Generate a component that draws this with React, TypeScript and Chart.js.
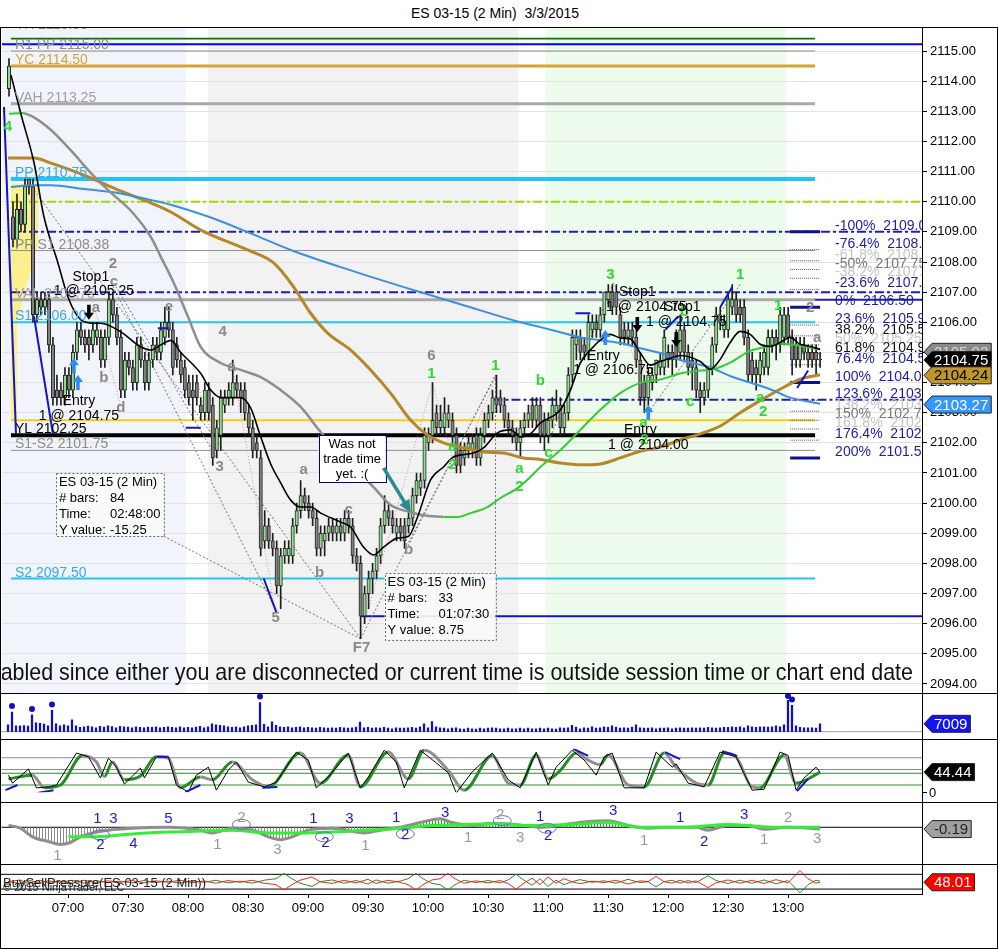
import React, { useEffect, useRef } from 'react';
import { Chart, registerables } from 'chart.js';

Chart.register(...registerables);

const FONT = '"Liberation Sans", Arial, Helvetica, sans-serif';
const AXIS_W = 76;

// ---------------- axes ----------------
const timeTickBars = [15, 30, 45, 60, 75, 90, 105, 120, 135, 150, 165, 180, 195];
const timeTickLabels = ['07:00', '07:30', '08:00', '08:30', '09:00', '09:30', '10:00', '10:30', '11:00', '11:30', '12:00', '12:30', '13:00'];
const priceTicks = [2094, 2095, 2096, 2097, 2098, 2099, 2100, 2101, 2102, 2103, 2104, 2105, 2106, 2107, 2108, 2109, 2110, 2111, 2112, 2113, 2114, 2115];
const oscTicks = [0];

// ---------------- candles (2 min bars, index 0 = 06:30) ----------------
const opens = [
  2113.75, 2109.5, 2108.75, 2109.75, 2109.25, 2110.75, 2110.5, 2106.25, 2106.75, 2106.5,
  2106.75, 2105.25, 2103.75, 2103.75, 2103.5, 2104.25, 2103.75, 2105.0, 2105.75, 2105.5,
  2105.5, 2105.25, 2105.5, 2105.5, 2104.75, 2105.5, 2106.75, 2106.25, 2105.5, 2103.75,
  2104.75, 2104.5, 2104.0, 2105.25, 2104.75, 2104.0, 2104.75, 2105.25, 2105.0, 2105.5,
  2106.0, 2105.75, 2105.25, 2104.75, 2104.5, 2104.0, 2103.75, 2104.0, 2103.25, 2103.0,
  2103.75, 2103.25, 2101.75, 2102.25, 2103.25, 2103.5, 2103.5, 2104.0, 2103.75, 2103.75,
  2103.0, 2102.5, 2102.0, 2101.5, 2098.75, 2099.25, 2098.75, 2098.5, 2097.25, 2098.25,
  2098.25, 2098.25, 2099.25, 2099.75, 2100.25, 2100.0, 2099.75, 2099.5, 2098.5, 2098.75,
  2099.0, 2099.25, 2099.0, 2099.25, 2099.0, 2099.5, 2099.25, 2098.25, 2098.0, 2096.25,
  2097.0, 2097.5, 2097.75, 2098.25, 2099.25, 2099.75, 2099.5, 2099.0, 2099.25, 2099.25,
  2099.25, 2099.5, 2100.25, 2100.5, 2100.75, 2102.0, 2102.25, 2103.0, 2102.5, 2102.5,
  2102.75, 2102.75, 2102.25, 2101.75, 2101.5, 2101.75, 2101.75, 2102.25, 2101.5, 2102.25,
  2102.75, 2103.0, 2103.5, 2103.5, 2103.25, 2102.75, 2102.5, 2102.25, 2102.0, 2102.5,
  2102.75, 2103.25, 2102.75, 2103.25, 2102.75, 2102.25, 2102.75, 2103.0, 2103.25, 2102.5,
  2103.0, 2104.25, 2105.25, 2105.5, 2105.25, 2105.0, 2105.75, 2106.0, 2105.75, 2106.25,
  2106.75, 2107.0, 2107.0, 2106.25, 2105.75, 2105.5, 2105.75, 2105.5, 2104.75, 2104.0,
  2103.5, 2104.0, 2104.25, 2104.5, 2104.5, 2105.0, 2105.0, 2105.5, 2105.0, 2105.75,
  2105.0, 2104.75, 2104.5, 2103.75, 2103.5, 2103.75, 2104.5, 2105.25, 2106.0, 2105.75,
  2105.75, 2106.5, 2106.75, 2106.5, 2106.5, 2105.5, 2104.75, 2104.5, 2104.25, 2104.5,
  2104.5, 2105.25, 2105.5, 2105.25, 2105.5, 2106.25, 2105.5, 2105.25, 2104.75, 2105.25,
  2105.0, 2105.0, 2105.0, 2104.75,
];
const highs = [
  2114.75, 2110.0, 2110.25, 2110.0, 2110.75, 2110.75, 2110.75, 2107.0, 2107.0, 2107.0,
  2107.0, 2105.5, 2104.25, 2104.0, 2104.5, 2104.5, 2105.25, 2106.0, 2106.0, 2105.75,
  2105.75, 2106.0, 2106.0, 2105.75, 2105.75, 2107.0, 2107.0, 2106.5, 2105.75, 2105.0,
  2105.0, 2104.75, 2105.5, 2105.5, 2105.0, 2105.0, 2105.5, 2105.5, 2106.0, 2106.5,
  2106.5, 2106.0, 2105.5, 2105.0, 2104.75, 2104.25, 2104.25, 2104.25, 2103.5, 2104.0,
  2104.0, 2103.5, 2102.75, 2103.75, 2103.75, 2104.0, 2104.75, 2104.25, 2104.0, 2104.0,
  2103.25, 2102.75, 2102.25, 2101.75, 2099.75, 2099.5, 2099.0, 2098.75, 2098.5, 2098.75,
  2098.75, 2099.5, 2100.0, 2100.75, 2100.5, 2100.25, 2100.0, 2099.75, 2099.25, 2099.25,
  2099.5, 2099.5, 2099.5, 2099.5, 2099.75, 2099.75, 2099.5, 2098.5, 2098.25, 2097.25,
  2097.75, 2098.0, 2098.5, 2099.5, 2100.25, 2100.0, 2099.75, 2099.5, 2099.5, 2099.5,
  2099.75, 2100.5, 2101.0, 2101.0, 2102.5, 2102.5, 2104.0, 2103.25, 2103.25, 2103.5,
  2103.25, 2103.0, 2102.5, 2102.0, 2102.0, 2102.25, 2102.25, 2102.5, 2102.5, 2103.0,
  2103.25, 2103.75, 2104.25, 2103.75, 2103.5, 2103.0, 2102.75, 2102.5, 2102.75, 2103.0,
  2103.25, 2103.5, 2103.5, 2103.5, 2103.0, 2103.0, 2103.5, 2103.75, 2103.5, 2103.25,
  2104.5, 2105.75, 2105.75, 2105.75, 2105.5, 2106.25, 2106.25, 2106.25, 2106.5, 2107.0,
  2107.25, 2107.25, 2107.25, 2106.5, 2106.0, 2106.0, 2106.0, 2105.75, 2105.0, 2104.25,
  2104.5, 2104.5, 2104.75, 2105.0, 2105.75, 2105.25, 2105.25, 2105.75, 2106.25, 2106.0,
  2105.25, 2105.0, 2104.75, 2104.0, 2104.0, 2104.5, 2105.5, 2106.5, 2106.5, 2106.25,
  2107.0, 2107.25, 2107.0, 2106.75, 2106.75, 2105.75, 2105.0, 2104.75, 2105.0, 2105.25,
  2105.75, 2105.75, 2105.75, 2106.5, 2106.5, 2106.5, 2105.75, 2105.5, 2105.5, 2105.5,
  2105.25, 2105.25, 2105.25, 2105.0,
];
const lows = [
  2113.5, 2108.5, 2108.5, 2109.0, 2109.0, 2110.25, 2106.0, 2106.0, 2106.25, 2106.25,
  2105.0, 2103.25, 2103.25, 2103.25, 2103.25, 2103.5, 2103.5, 2104.75, 2105.25, 2105.0,
  2104.75, 2105.0, 2105.25, 2104.5, 2104.5, 2105.25, 2106.0, 2105.25, 2103.5, 2103.5,
  2104.25, 2103.75, 2103.75, 2104.5, 2103.75, 2103.75, 2104.5, 2104.75, 2104.75, 2105.25,
  2105.5, 2104.25, 2104.5, 2104.0, 2103.5, 2103.25, 2102.75, 2103.25, 2102.75, 2102.75,
  2102.75, 2101.25, 2101.5, 2101.75, 2103.0, 2103.25, 2103.25, 2103.5, 2103.0, 2102.75,
  2102.25, 2101.5, 2101.5, 2098.25, 2098.5, 2098.5, 2098.25, 2097.0, 2096.5, 2098.0,
  2098.0, 2098.0, 2099.0, 2099.5, 2099.75, 2099.5, 2099.25, 2098.25, 2098.25, 2098.25,
  2098.75, 2098.75, 2098.75, 2098.75, 2098.75, 2099.0, 2098.0, 2097.75, 2095.5, 2096.0,
  2096.5, 2097.0, 2097.5, 2098.0, 2099.0, 2099.25, 2099.0, 2098.75, 2098.75, 2098.5,
  2099.0, 2099.25, 2100.0, 2100.25, 2100.5, 2101.75, 2102.0, 2102.25, 2102.25, 2102.25,
  2102.5, 2102.0, 2101.0, 2101.0, 2101.25, 2101.5, 2101.5, 2101.25, 2101.25, 2102.0,
  2102.5, 2102.75, 2103.0, 2103.0, 2102.5, 2102.25, 2102.0, 2101.75, 2101.5, 2102.25,
  2102.5, 2102.5, 2102.5, 2102.0, 2101.75, 2102.0, 2102.5, 2102.75, 2102.25, 2102.25,
  2102.75, 2104.0, 2104.75, 2104.75, 2104.75, 2104.75, 2105.5, 2105.5, 2105.5, 2106.0,
  2106.5, 2106.25, 2106.25, 2105.25, 2105.25, 2105.25, 2105.25, 2104.5, 2103.25, 2103.0,
  2103.25, 2103.75, 2104.0, 2104.25, 2104.25, 2104.5, 2104.25, 2104.5, 2104.75, 2104.75,
  2104.25, 2103.75, 2103.5, 2103.0, 2103.25, 2103.5, 2104.25, 2105.0, 2105.75, 2105.5,
  2105.5, 2106.25, 2106.0, 2106.0, 2105.25, 2104.0, 2104.0, 2103.75, 2104.0, 2104.25,
  2104.25, 2105.0, 2104.75, 2105.0, 2105.25, 2105.25, 2104.25, 2104.5, 2104.5, 2104.75,
  2104.5, 2104.5, 2104.25, 2104.5,
];
const closes = [
  2114.5, 2108.75, 2109.75, 2109.25, 2110.5, 2110.5, 2106.25, 2106.75, 2106.5, 2106.75,
  2105.25, 2103.5, 2103.5, 2103.5, 2104.25, 2103.75, 2105.0, 2105.75, 2105.5, 2105.25,
  2105.25, 2105.75, 2105.75, 2104.75, 2105.5, 2106.75, 2106.25, 2105.5, 2103.75, 2104.75,
  2104.5, 2104.0, 2105.25, 2104.75, 2104.0, 2104.75, 2105.25, 2105.0, 2105.75, 2106.0,
  2105.75, 2104.5, 2104.75, 2104.25, 2103.75, 2103.5, 2103.5, 2103.5, 2103.0, 2103.75,
  2103.0, 2101.5, 2102.5, 2103.5, 2103.5, 2103.75, 2104.0, 2103.75, 2103.5, 2103.0,
  2102.5, 2101.75, 2101.75, 2098.5, 2099.25, 2098.75, 2098.5, 2097.25, 2098.25, 2098.5,
  2098.5, 2099.25, 2099.75, 2100.25, 2100.0, 2099.75, 2099.5, 2098.5, 2099.0, 2099.0,
  2099.25, 2099.0, 2099.25, 2099.0, 2099.5, 2099.25, 2098.25, 2098.0, 2096.25, 2097.0,
  2097.5, 2097.75, 2098.25, 2099.25, 2099.75, 2099.5, 2099.25, 2099.25, 2099.0, 2098.75,
  2099.5, 2100.25, 2100.75, 2100.75, 2102.25, 2102.25, 2102.75, 2102.5, 2102.75, 2103.0,
  2103.0, 2102.25, 2101.25, 2101.25, 2101.75, 2102.0, 2102.0, 2101.5, 2102.25, 2102.75,
  2103.0, 2103.5, 2103.25, 2103.25, 2102.75, 2102.5, 2102.25, 2102.0, 2102.5, 2102.75,
  2103.0, 2102.75, 2103.25, 2102.25, 2102.25, 2102.75, 2103.25, 2103.25, 2102.5, 2103.0,
  2104.25, 2105.5, 2105.5, 2105.0, 2105.0, 2106.0, 2106.0, 2105.75, 2106.25, 2107.0,
  2107.0, 2106.5, 2106.5, 2105.5, 2105.5, 2105.75, 2105.5, 2104.75, 2103.5, 2103.5,
  2104.25, 2104.25, 2104.75, 2104.75, 2105.5, 2104.75, 2104.75, 2104.75, 2105.75, 2105.0,
  2104.5, 2104.5, 2103.75, 2103.5, 2103.75, 2104.5, 2105.25, 2106.25, 2106.25, 2106.0,
  2106.75, 2106.75, 2106.25, 2106.25, 2105.5, 2104.25, 2104.25, 2104.25, 2104.75, 2105.0,
  2105.5, 2105.5, 2105.25, 2106.25, 2106.25, 2105.5, 2104.75, 2104.75, 2105.25, 2105.0,
  2104.75, 2104.75, 2104.75, 2104.75,
];

// ---------------- moving averages [bar, price] ----------------
const blackMA = [[0.5, 2114.2], [3, 2112.9], [6.25, 2111.3], [8.75, 2109.5], [12.25, 2107.97], [14.75, 2106.84], [18, 2106.08], [21.25, 2105.97], [23, 2105.97], [28, 2105.68], [33, 2105.18], [35.5, 2105.08], [38, 2105.25], [40.5, 2105.4], [43, 2105.0], [48, 2104.3], [50.5, 2103.75], [53, 2103.5], [58, 2103.5], [60.5, 2103.15], [63, 2102.2], [65.5, 2101.3], [68, 2100.67], [70.5, 2100.1], [73, 2099.87], [75.5, 2099.87], [78, 2099.67], [83, 2099.37], [85.5, 2099.2], [88.75, 2098.54], [91.25, 2098.28], [93.75, 2098.54], [97.25, 2098.84], [100, 2098.9], [102.25, 2099.54], [105.5, 2100.77], [108.75, 2101.2], [111.25, 2101.53], [116.25, 2101.66], [118.75, 2101.83], [122.25, 2102.33], [125.5, 2102.43], [128, 2102.2], [130.5, 2102.3], [133, 2102.66], [138, 2103.1], [140.5, 2103.75], [143, 2104.65], [145.5, 2105.08], [148, 2105.41], [150.5, 2105.6], [153, 2105.48], [155.5, 2105.45], [158, 2104.98], [160.5, 2104.58], [163, 2104.7], [165.5, 2104.81], [168, 2104.9], [173, 2104.7], [175.5, 2104.44], [178, 2104.77], [180.5, 2105.33], [183, 2105.7], [185.5, 2105.6], [188, 2105.27], [190.5, 2105.2], [193, 2105.33], [195.5, 2105.5], [198, 2105.27], [200.5, 2105.2], [203, 2105.1]];
const grayMA = [[3.75, 2112.94], [6.25, 2112.8], [10.5, 2112.38], [15.5, 2111.7], [20.5, 2110.95], [25.5, 2110.3], [30.5, 2109.7], [35.5, 2108.83], [38, 2108.17], [41.25, 2107.3], [44.75, 2106.2], [48, 2105.18], [53, 2104.65], [58, 2104.42], [63, 2104.18], [68, 2103.75], [73, 2103.19], [78, 2102.36], [84.25, 2101.43], [91.25, 2100.53], [95.5, 2099.94], [100.5, 2099.7], [103.75, 2099.6], [108.75, 2099.54]];
const greenMAStart = [[0, 2112.92], [3.75, 2112.94]];
const greenMA = [[108.75, 2099.54], [112.25, 2099.54], [115.5, 2099.67], [119.75, 2099.87], [123, 2100.17], [127.25, 2100.5], [130.5, 2100.87], [133, 2101.2], [138, 2101.76], [143, 2102.43], [148, 2103.1], [153, 2103.65], [158, 2103.99], [163, 2104.1], [168, 2104.3], [173, 2104.4], [176.25, 2104.44], [180.5, 2104.66], [185.5, 2105.05], [190.5, 2105.22], [193, 2105.3], [198, 2105.22], [203, 2105.1]];
const brownMA = [[-0.25, 2111.45], [6.25, 2111.45], [10.5, 2111.28], [15.5, 2111.05], [20.5, 2110.79], [25.5, 2110.49], [30.5, 2110.22], [35.5, 2109.96], [40.5, 2109.66], [48, 2109.06], [59.75, 2108.4], [66.25, 2107.97], [71.25, 2107.17], [75.5, 2106.3], [79.75, 2105.64], [85.5, 2105.08], [90.5, 2104.42], [95.5, 2103.65], [100.5, 2102.76], [104.75, 2102.26], [108.75, 2102.0], [113.75, 2101.83], [118.75, 2101.7], [123.75, 2101.66], [128.75, 2101.5], [133, 2101.45], [138, 2101.33], [143, 2101.27], [148, 2101.3], [153, 2101.5], [158, 2101.72], [163, 2101.86], [168, 2102.1], [173, 2102.3], [178, 2102.56], [183, 2103.0], [188, 2103.4], [193, 2103.78], [198, 2104.11], [203, 2104.26]];
const blueMA = [[0.5, 2110.49], [6.25, 2110.55], [10.5, 2110.55], [18.75, 2110.42], [27.25, 2110.29], [35.5, 2110.06], [40.5, 2109.9], [50, 2109.5], [60.5, 2108.95], [70.5, 2108.4], [83, 2107.83], [98, 2107.2], [113, 2106.6], [128, 2106.0], [133, 2105.84], [138, 2105.67], [143, 2105.5], [153, 2105.31], [158, 2105.14], [163, 2104.98], [168, 2104.75], [175.5, 2104.5], [180.5, 2104.22], [185.5, 2104.0], [190.5, 2103.78], [195.5, 2103.5], [203, 2103.3]];

// ---------------- horizontal levels ----------------
const levelPrices = [2115.43, 2115.22, 2115.0, 2114.5, 2113.25, 2110.75, 2110.0, 2109.0, 2108.38, 2107.0, 2106.75, 2106.75, 2106.0, 2103.43, 2102.75, 2102.25, 2101.75, 2097.5, 2096.25];
const levelFrom = [0.5, -2, 0.5, 0.5, 0.5, 0.5, 0.5, 0.5, 0.5, 0.5, 0.5, 201.25, 0.5, 121.25, 0.5, 0.5, 0.5, 0.5, 88];
const levelTo = [201.75, 229, 201.75, 201.75, 201.75, 201.75, 229, 229, 201.75, 229, 201.75, 229, 201.75, 229, 201.75, 201.75, 201.75, 201.75, 229];
const levelStyles = [
  { c: '#007a00', w: 3 }, { c: '#0000ff', w: 2 }, { c: '#8c8c8c', w: 1 }, { c: '#d4a437', w: 3 },
  { c: '#a8a8a8', w: 3 }, { c: '#22c4f4', w: 4 }, { c: '#99dd00', w: 2, d: [9, 3, 3, 3] },
  { c: '#1e1eb4', w: 2, d: [9, 3, 3, 3] }, { c: '#909090', w: 1 }, { c: '#1e1eb4', w: 2, d: [9, 3, 3, 3] },
  { c: '#a8a8a8', w: 3 }, { c: '#1e1eb4', w: 2 }, { c: '#22c4f4', w: 2 }, { c: '#1e1eb4', w: 2, d: [9, 3, 3, 3] },
  { c: '#f5cc1a', w: 2 }, { c: '#000000', w: 4 }, { c: '#909090', w: 1 }, { c: '#22c4f4', w: 2 }, { c: '#1414c8', w: 2 },
];
const levelLabelTexts = ['YH 2115.50', 'R1 PP 2115.00', 'YC 2114.50', 'VAH 2113.25', 'PP 2110.75', 'PP S1 2108.38', 'VAL 2106.75', 'S1 2106.00', 'YL 2102.25', 'S1-S2 2101.75', 'S2 2097.50'];
const levelLabelPrices = [2115.68, 2115.0, 2114.5, 2113.25, 2110.75, 2108.38, 2106.75, 2106.0, 2102.25, 2101.75, 2097.5];
const levelLabelColors = ['#8c8c8c', '#8c8c8c', '#d4a437', '#a0a0a0', '#3aa8f0', '#8c8c8c', '#a0a0a0', '#3aa8f0', '#000000', '#8c8c8c', '#3aa8f0'];
const levelLabelBar = 1.5;

// ---------------- fibonacci ----------------
const fibPcts = ['-100%', '-76.4%', '-61.8%', '-50%', '-38.2%', '-23.6%', '0%', '23.6%', '38.2%', '50%', '61.8%', '76.4%', '100%', '123.6%', '138.2%', '150%', '161.8%', '176.4%', '200%'];
const fibPrices = [2109.0, 2108.41, 2108.04, 2107.75, 2107.46, 2107.09, 2106.5, 2105.91, 2105.55, 2105.25, 2104.96, 2104.59, 2104.0, 2103.41, 2103.05, 2102.75, 2102.46, 2102.09, 2101.5];
const fibColors = ['#1c1ca8', '#1c1ca8', '#c4c4c4', '#777777', '#c4c4c4', '#1c1ca8', '#1c1ca8', '#1c1ca8', '#111111', '#c4c4c4', '#111111', '#1c1ca8', '#1c1ca8', '#1c1ca8', '#c4c4c4', '#777777', '#c4c4c4', '#1c1ca8', '#1c1ca8'];
const fibThick = [0, 6, 12, 18];
const fibFrom = 195.5;
const fibTo = 203;
const fibLabelBar = 206.75;

// ---------------- zones ----------------
const zoneFrom = [-2, 49.75, 134.25];
const zoneTo = [44.25, 127.5, 194.5];
const zoneColors = ['#f2f4fb', '#f2f2f2', '#ecfbec'];
const yellowBars = [0.5, 7.25, 7.25, 2, 2, 0.5];
const yellowPrices = [2110.6, 2110.6, 2108.6, 2106.0, 2102.75, 2102.75];

// ---------------- segments ----------------
const waveSegFrom = [[-1.25, 2113.14], [6.25, 2106.2], [37.25, 2105.8], [44.25, 2102.5], [63.75, 2097.5], [141.75, 2106.3], [164.25, 2105.75], [178, 2106.5], [197.25, 2103.82]];
const waveSegTo = [[1.75, 2102.3], [11, 2102.3], [40, 2105.8], [48, 2102.5], [67, 2096.35], [145.5, 2106.3], [167.5, 2106.2], [181, 2107.17], [200, 2104.4]];
const measureFrom = [[4, 2110.8], [88, 2095.5], [121.75, 2104.25], [38.75, 2098.9], [26.25, 2107.3], [26, 2107.2], [100, 2098.7], [135.5, 2102.2], [160, 2103.0]];
const measureTo = [[88, 2095.5], [121.75, 2104.25], [121.75, 2097.7], [88, 2095.5], [52, 2101.5], [67, 2096.4], [121.75, 2104.2], [151.25, 2107.3], [183, 2107.25]];
const pivotFrom = [[46, 2104.65], [55.75, 2104.7], [88, 2095.6], [106, 2104.0], [112, 2101.0], [151.25, 2107.3], [21, 2106.7]];
const pivotTo = [[52, 2101.5], [66.75, 2096.4], [106, 2104.0], [112, 2101.0], [122, 2104.2], [160, 2103.0], [28, 2103.2]];

// ---------------- chart texts ----------------
const grayLabels = ['2', 'c', 'a', 'b', 'd', 'e', '4', 'a', '3', 'a', 'c', 'b', '5', 'F7', 'b', '6', '2', 'a'];
const grayLabelBars = [26, 26.25, 21.75, 23.75, 28, 40, 53.5, 55.75, 52.75, 73.75, 85, 77.75, 66.75, 88.25, 100, 105.75, 200.5, 202.25];
const grayLabelPrices = [2107.93, 2107.34, 2106.47, 2104.15, 2103.16, 2106.5, 2105.68, 2104.52, 2101.2, 2101.1, 2099.77, 2097.68, 2096.19, 2095.19, 2098.45, 2104.88, 2106.47, 2105.48];
const greenLabels = ['4', '1', '1', 'a', '2', 'a', '2', 'b', 'c', '3', 'b', 'a', '2', 'c', '1', '1', 'a', '2'];
const greenLabelBars = [-0.25, 105.75, 121.75, 111, 111, 127.75, 127.75, 133, 135, 150.5, 169, 158.75, 159, 170.5, 183, 192.5, 188, 188.75];
const greenLabelPrices = [2112.48, 2104.28, 2104.55, 2101.86, 2101.27, 2101.13, 2100.54, 2104.05, 2101.66, 2107.57, 2106.34, 2102.66, 2102.1, 2103.36, 2107.57, 2106.54, 2103.49, 2103.02];
const tradeTexts = ['Stop1', '1 @ 2105.25', 'Entry', '1 @ 2104.75', 'Stop1', '1 @ 2104.75', 'Stop1', '1 @ 2104.75', 'Entry', '1 @ 2106.75', 'Entry', '1 @ 2104.00'];
const tradeBars = [20.5, 21.25, 17.5, 17.5, 157.25, 159.5, 168.5, 169.5, 148.75, 151.25, 158, 160];
const tradePrices = [2107.5, 2107.04, 2103.39, 2102.89, 2107.0, 2106.5, 2106.5, 2106.0, 2104.88, 2104.42, 2102.43, 2101.93];
const downArrowBars = [20, 157.25, 167];
const downArrowPrices = [2106.08, 2105.68, 2105.18];
const upArrowBars = [16.25, 17.25, 149.25, 160];
const upArrowPrices = [2104.81, 2104.25, 2105.74, 2103.26];
const noticeText = 'Order entry is disabled since either you are disconnected or current time is outside session time or chart end date';
const noticePrice = 2094.13;
const calloutLines = ['Was not', 'trade time', 'yet. :('];
const calloutBox = [77.5, 2102.26, 94.25, 2100.7];
const calloutArrow = [93.75, 2101.17, 100.5, 2099.7];
const infoBoxA = [11.75, 2101.0, 38.75, 2098.91];
const infoBoxB = [94, 2097.68, 121.75, 2095.46];
const infoLabels = ['ES 03-15 (2 Min)', '# bars:', 'Time:', 'Y value:'];
const infoValuesA = ['', '84', '02:48:00', '-15.25'];
const infoValuesB = ['', '33', '01:07:30', '8.75'];
const priceTagValues = [2105.02, 2104.75, 2104.24, 2103.27];
const priceTagFills = ['#8a8a8a', '#000000', '#c0962c', '#3399ff'];
const priceTagInk = ['#d8d8d8', '#ffffff', '#000000', '#ffffff'];

// ---------------- volume ----------------
const volumes = [
  6100, 17500, 5200, 5200, 5500, 5000, 15000, 7800, 7500, 6800,
  5200, 19000, 7000, 5200, 6100, 5300, 10500, 5200, 3900, 4300,
  5000, 4400, 3500, 4800, 4000, 5200, 4500, 3500, 4800, 4400,
  4000, 3500, 4400, 3900, 3500, 4200, 3900, 4400, 3500, 3900,
  4400, 3900, 3500, 4400, 3500, 3900, 3500, 4000, 4800, 3500,
  4400, 7000, 6100, 5700, 5200, 4400, 3900, 4400, 3500, 4400,
  5200, 5700, 6100, 26000, 6500, 4400, 8800, 5700, 4400, 3900,
  4400, 3500, 3900, 4400, 3500, 3900, 3500, 3100, 3900, 3500,
  3100, 3500, 3100, 3900, 3500, 3100, 3500, 4000, 8500, 3500,
  3900, 3100, 3500, 3100, 3900, 3100, 2600, 3500, 3100, 3100,
  3500, 3900, 3100, 4400, 7000, 3500, 9000, 4400, 3500, 3100,
  2600, 3100, 3500, 2600, 2200, 3100, 2600, 2200, 3100, 2600,
  3100, 3500, 3100, 2600, 2600, 3100, 2600, 2600, 3100, 2600,
  3100, 2600, 2600, 3100, 2600, 3100, 2600, 2200, 3500, 3100,
  3500, 5700, 4000, 2600, 3500, 3100, 4400, 3100, 3500, 4400,
  3900, 5200, 4000, 3100, 3500, 3100, 4000, 6100, 3500, 3100,
  3100, 3500, 2600, 3100, 3100, 3500, 2600, 3100, 3500, 3100,
  3100, 3500, 3100, 3500, 3100, 3900, 3500, 3100, 3500, 3900,
  3900, 4400, 3900, 4400, 3500, 5200, 4400, 3900, 4400, 4400,
  4000, 4400, 5200, 4400, 6100, 28000, 23500, 5200, 3900, 3500,
  3500, 3500, 3100, 7009,
];
const volumeDotBars = [1, 6, 11, 63, 195, 196];
const volumeTag = 7009;

// ---------------- oscillator ----------------
const oscFast = [[0, 38], [1, 21], [5, 51], [7, 11], [10, 13], [12, 17], [17, 85], [20, 77], [23, 32], [25, 74], [27, 55], [29, 19], [33, 53], [34, 32], [37, 77], [40, 77], [42, 17], [45, 2], [47, 38], [50, 55], [52, 6], [55, 49], [57, 66], [60, 23], [64, 13], [67, 23], [72, 87], [75, 70], [77, 11], [80, 34], [85, 85], [88, 11], [90, 34], [94, 91], [97, 66], [99, 11], [103, 91], [107, 64], [110, 43], [112, 0], [116, 45], [121, 85], [125, 28], [128, 11], [132, 87], [135, 17], [137, 55], [141, 91], [144, 70], [147, 38], [149, 77], [151, 85], [154, 11], [159, 11], [162, 87], [166, 55], [167, 62], [170, 21], [174, 13], [178, 87], [180, 82], [182, 77], [186, 6], [189, 8], [193, 87], [195, 80], [197, 6], [199, 32], [202, 55], [203, 44.44]];
const oscSlow = [[0, 30], [6, 38], [9, 11], [13, 17], [18.5, 80], [22, 66], [24, 35], [26, 66], [29, 28], [33, 36], [37, 77], [40, 74], [43, 11], [48, 34], [51, 28], [56, 66], [61, 28], [65, 13], [73, 85], [78, 21], [85, 81], [88, 13], [95, 87], [100, 30], [104, 91], [110, 48], [114, 6], [121, 80], [125, 21], [128, 17], [132, 81], [135, 30], [138, 48], [142, 85], [145, 70], [148, 60], [150, 81], [155, 17], [159, 13], [164, 85], [167, 55], [172, 21], [175, 17], [179, 85], [182, 77], [186, 13], [188, 11], [194, 81], [197, 21], [203, 44]];
const oscLevels = [75, 50, 42, 17, 0];
const oscLevelColors = ['#8c8c8c', '#8c8c8c', '#2e8b2e', '#2e8b2e', '#d4d4d4'];
const oscSegFrom = [[-0.75, 6], [7.25, 0], [37.25, 77], [44.25, 2], [63.5, 11], [141.25, 94], [164.25, 87], [178.5, 89], [197.25, 4]];
const oscSegTo = [[2.25, 17], [11.25, 6], [40, 77], [48, 17], [67.25, 13], [145, 79], [168, 72], [182.25, 79], [200, 30]];
const oscTag = 44.44;

// ---------------- histogram oscillator ----------------
const histMain = [[0, 0.2], [3, -0.1], [6, -1.0], [10, -1.5], [13, -1.8], [15.5, -1.6], [18, -1.0], [21, -0.6], [25, -0.3], [31, -0.1], [40, 0], [48, -0.3], [51, -0.6], [56, -0.1], [61, -0.3], [65, -1.0], [68, -1.3], [71, -1.0], [75, -0.3], [81, -0.1], [89, -0.6], [93, -0.3], [98, 0], [103, 0.5], [108, 0.9], [111, 0.5], [116, 0.2], [121, 0.4], [129, 0.2], [133, 0], [141, 0.4], [145, 0.6], [150, 0.7], [155, 0.2], [160, -0.1], [165, 0], [172, 0], [175, -0.3], [180, 0.2], [185, 0.2], [189, -0.2], [195, 0], [203, -0.19]];
const histSignal = [[15, -1.0], [21, -1.0], [31, -0.7], [40, -0.5], [48, -0.4], [56, -0.3], [65, -0.6], [73, -0.6], [81, -0.5], [90, -0.3], [98, -0.1], [106, 0.2], [115, 0.3], [123, 0.4], [129, 0.2], [141, 0.3], [150, 0.5], [158, 0], [170, 0], [180, 0.3], [191, 0], [203, 0]];
const histLabelTexts = ['1', '1', '3', '2', '4', '5', '2', '1', '3', '1', '3', '2', '1', '1', '2', '3', '1', '2', '3', '1', '2', '3', '1', '1', '2', '3', '1', '2', '3'];
const histLabelBars = [12.25, 22.25, 26.25, 23, 31.25, 40, 58.25, 52.25, 67.25, 76.25, 85.25, 79.25, 89.25, 97, 99.25, 109.25, 115, 123, 128, 133, 135, 151.25, 159, 168, 174, 184, 189, 195, 202.25];
const histLabelVals = [-3.0, 0.9, 0.9, -1.8, -1.7, 0.9, 1.0, -1.8, -2.4, 0.9, 0.9, -1.6, -1.9, 1.0, -0.8, 1.5, -1.1, 1.3, -1.1, 1.1, -0.9, 1.7, -1.4, 1.0, -1.5, 1.3, -1.3, 1.0, -1.2];
const histLabelBlue = [0, 1, 1, 1, 1, 1, 0, 0, 0, 1, 1, 1, 0, 1, 1, 1, 0, 0, 0, 1, 1, 1, 0, 1, 1, 1, 0, 0, 0];
const histEllipseBars = [23, 58.25, 79, 99.25, 123.5, 134.75];
const histEllipseVals = [-0.8, 0.3, -1.0, -0.7, 0.7, -0.1];
const histTag = -0.19;

// ---------------- buy / sell pressure ----------------
const bspSell = [[0, 50], [3, 56], [5, 44], [8, 55], [10, 47], [13, 52], [16, 45], [19, 55], [22, 46], [25, 53], [28, 48], [31, 54], [34, 46], [37, 53], [40, 48], [43, 55], [46, 47], [49, 52], [52, 45], [55, 54], [58, 48], [61, 55], [64, 45], [67, 40], [69, 22], [71, 40], [73, 55], [76, 66], [78, 50], [81, 44], [84, 55], [87, 46], [90, 58], [92, 44], [95, 55], [98, 48], [100, 40], [102, 22], [104, 42], [106, 56], [108, 60], [110, 78], [112, 58], [114, 45], [117, 53], [120, 46], [123, 54], [125, 44], [127, 25], [129, 45], [131, 62], [133, 40], [135, 66], [137, 45], [139, 60], [141, 50], [143, 43], [146, 52], [149, 47], [152, 55], [155, 42], [158, 53], [160, 50], [162, 68], [164, 50], [166, 45], [168, 55], [170, 46], [172, 53], [175, 30], [177, 46], [180, 56], [183, 45], [186, 55], [189, 44], [192, 57], [195, 46], [198, 88], [200, 60], [202, 45], [203, 48.01]];
const bspBuy = [[0, 50], [3, 44], [5, 56], [8, 45], [10, 53], [13, 48], [16, 55], [19, 45], [22, 54], [25, 47], [28, 52], [31, 46], [34, 54], [37, 47], [40, 52], [43, 45], [46, 53], [49, 48], [52, 55], [55, 46], [58, 52], [61, 45], [64, 55], [67, 60], [69, 78], [71, 60], [73, 45], [76, 34], [78, 50], [81, 56], [84, 45], [87, 54], [90, 42], [92, 56], [95, 45], [98, 52], [100, 60], [102, 78], [104, 58], [106, 44], [108, 40], [110, 22], [112, 42], [114, 55], [117, 47], [120, 54], [123, 46], [125, 56], [127, 75], [129, 55], [131, 38], [133, 60], [135, 34], [137, 55], [139, 40], [141, 50], [143, 57], [146, 48], [149, 53], [152, 45], [155, 58], [158, 47], [160, 50], [162, 32], [164, 50], [166, 55], [168, 45], [170, 54], [172, 47], [175, 70], [177, 54], [180, 44], [183, 55], [186, 45], [189, 56], [192, 43], [195, 54], [198, 12], [200, 40], [202, 55], [203, 51.99]];
const bspBands = [75, 25];
const bspTag = 48.01;

// =====================================================================
const P = (a: number[][]) => a.map(([x, y]) => ({ x, y }));

function lineDS(data: any[], color: string, width: number, extra: any = {}) {
  return {
    type: 'line', data, borderColor: color, borderWidth: width, pointRadius: 0, pointHoverRadius: 0,
    fill: false, tension: 0, order: 20, ...extra,
  };
}

function text(ctx: any, s: string, x: number, y: number, font: string, color: string, align = 'center', base = 'middle') {
  ctx.font = font;
  ctx.fillStyle = color;
  ctx.textAlign = align;
  ctx.textBaseline = base;
  ctx.fillText(s, x, y);
}

function drawTag(ctx: any, x0: number, yc: number, s: string, fill: string, ink: string, font: string, h: number) {
  ctx.font = font;
  const w = ctx.measureText(s).width;
  const tip = 8;
  const x1 = x0 + tip + w + 5;
  ctx.beginPath();
  ctx.moveTo(x0, yc);
  ctx.lineTo(x0 + tip, yc - h / 2);
  ctx.lineTo(x1, yc - h / 2);
  ctx.lineTo(x1, yc + h / 2);
  ctx.lineTo(x0 + tip, yc + h / 2);
  ctx.closePath();
  ctx.fillStyle = fill;
  ctx.fill();
  ctx.strokeStyle = '#222';
  ctx.lineWidth = 1;
  ctx.stroke();
  text(ctx, s, x0 + tip + 2, yc + 1, font, ink, 'left', 'middle');
}

function arrowShape(ctx: any, x: number, tipY: number, dir: number, color: string) {
  const len = 15, head = 7, hw = 5, sw = 1.8;
  const baseY = tipY - dir * len;
  const neck = tipY - dir * head;
  ctx.beginPath();
  ctx.moveTo(x - sw, baseY);
  ctx.lineTo(x + sw, baseY);
  ctx.lineTo(x + sw, neck);
  ctx.lineTo(x + hw, neck);
  ctx.lineTo(x, tipY);
  ctx.lineTo(x - hw, neck);
  ctx.lineTo(x - sw, neck);
  ctx.closePath();
  ctx.fillStyle = color;
  ctx.fill();
}

function xAxisHidden() {
  return { type: 'linear', display: false, min: -1.75, max: 228.5, offset: false };
}

function yAxisRight(extra: any = {}) {
  return {
    type: 'linear', position: 'right',
    afterFit: (s: any) => { s.width = AXIS_W; },
    border: { display: false },
    grid: { display: false },
    ticks: { display: false },
    ...extra,
  };
}

const basePlugins = { legend: { display: false }, tooltip: { enabled: false } };

// ---------------- main price panel ----------------
function mainConfig() {
  const ds: any[] = [];
  levelPrices.forEach((p, k) => {
    const st: any = levelStyles[k];
    ds.push(lineDS([{ x: levelFrom[k], y: p }, { x: levelTo[k], y: p }], st.c, st.w, { borderDash: st.d || [], order: 80 }));
  });
  fibPrices.forEach((p, k) => {
    const thick = fibThick.includes(k);
    ds.push(lineDS([{ x: fibFrom, y: p }, { x: fibTo, y: p }], thick ? '#10108a' : '#555', thick ? 3 : 1, { borderDash: thick ? [] : [1, 1], order: 79 }));
  });
  measureFrom.forEach((a, k) => {
    ds.push(lineDS(P([a, measureTo[k]]), '#777', 1, { borderDash: [2, 2], order: 70 }));
  });
  pivotFrom.forEach((a, k) => {
    ds.push(lineDS(P([a, pivotTo[k]]), 'rgba(225,110,110,0.75)', 1, { borderDash: [1, 2], order: 70 }));
  });
  ds.push({
    type: 'bar', data: highs.map((h, i) => ({ x: i, y: [lows[i], h] })), backgroundColor: '#1e1e1e',
    barThickness: 1, grouped: false, order: 50,
  });
  ds.push({
    type: 'bar', data: opens.map((o, i) => ({ x: i, y: [o, closes[i]] })),
    backgroundColor: (c: any) => (closes[c.dataIndex] > opens[c.dataIndex] ? '#8edc8e' : '#808080'),
    borderColor: '#262626', borderWidth: 1, borderSkipped: false, barThickness: 3.4, grouped: false, minBarLength: 1, order: 49,
  });
  ds.push(lineDS(P(brownMA), '#b8862a', 3, { cubicInterpolationMode: 'monotone', order: 30 }));
  ds.push(lineDS(P(blueMA), '#3f8fe0', 2, { cubicInterpolationMode: 'monotone', order: 29 }));
  ds.push(lineDS(P(grayMA), '#8e8e8e', 2.5, { cubicInterpolationMode: 'monotone', order: 28 }));
  ds.push(lineDS(P(greenMA), '#33cc33', 2, { cubicInterpolationMode: 'monotone', order: 27 }));
  ds.push(lineDS(P(greenMAStart), '#33cc33', 2, { order: 27 }));
  ds.push(lineDS(P(blackMA), '#000000', 1.6, { cubicInterpolationMode: 'monotone', order: 26 }));
  waveSegFrom.forEach((a, k) => {
    ds.push(lineDS(P([a, waveSegTo[k]]), '#1414c0', 2, { order: 10 }));
  });

  const deco = {
    id: 'mainDeco',
    beforeDraw(chart: any) {
      const { ctx, chartArea: ca, scales: { x, y } } = chart;
      ctx.save();
      zoneFrom.forEach((f, k) => {
        const x0 = Math.max(ca.left, x.getPixelForValue(f));
        const x1 = Math.min(ca.right, x.getPixelForValue(zoneTo[k]));
        ctx.fillStyle = zoneColors[k];
        ctx.fillRect(x0, 0, x1 - x0, chart.height);
      });
      ctx.beginPath();
      yellowBars.forEach((b, k) => {
        const px = x.getPixelForValue(b), py = y.getPixelForValue(yellowPrices[k]);
        if (k === 0) ctx.moveTo(px, py); else ctx.lineTo(px, py);
      });
      ctx.closePath();
      ctx.fillStyle = 'rgba(255,238,110,0.8)';
      ctx.fill();
      ctx.restore();
    },
    afterDatasetsDraw(chart: any) {
      const { ctx, chartArea: ca, scales: { x, y } } = chart;
      const X = (v: number) => x.getPixelForValue(v);
      const Y = (v: number) => y.getPixelForValue(v);
      ctx.save();
      ctx.beginPath();
      ctx.rect(ca.left, 0, ca.right - ca.left, chart.height);
      ctx.clip();
      // level labels
      levelLabelTexts.forEach((s, k) => {
        text(ctx, s, X(levelLabelBar), Y(levelLabelPrices[k]) - 2, `14px ${FONT}`, levelLabelColors[k], 'left', 'alphabetic');
      });
      // fib labels
      fibPcts.forEach((s, k) => {
        text(ctx, `${s}  ${fibPrices[k].toFixed(2)}`, X(fibLabelBar), Y(fibPrices[k]) - 2, `14px ${FONT}`, fibColors[k], 'left', 'alphabetic');
      });
      // notice (tall, slightly condensed)
      ctx.save();
      ctx.translate(913, Y(noticePrice));
      ctx.scale(0.894, 1);
      text(ctx, noticeText, 0, 0, `24px ${FONT}`, '#111', 'right', 'alphabetic');
      ctx.restore();
      // info boxes
      [[infoBoxA, infoValuesA], [infoBoxB, infoValuesB]].forEach(([b, vals]: any) => {
        const x0 = X(b[0]), y0 = Y(b[1]), x1 = X(b[2]), y1 = Y(b[3]);
        ctx.fillStyle = 'rgba(250,250,250,0.92)';
        ctx.fillRect(x0, y0, x1 - x0, y1 - y0);
        ctx.setLineDash([2, 2]);
        ctx.strokeStyle = '#666';
        ctx.lineWidth = 1;
        ctx.strokeRect(Math.round(x0) + 0.5, Math.round(y0) + 0.5, x1 - x0, y1 - y0);
        ctx.setLineDash([]);
        infoLabels.forEach((s, k) => {
          text(ctx, s, x0 + 3, y0 + 9 + k * 16, `13px ${FONT}`, '#000', 'left', 'middle');
          if (vals[k]) text(ctx, vals[k], x0 + 54, y0 + 9 + k * 16, `13px ${FONT}`, '#000', 'left', 'middle');
        });
      });
      // wave labels
      grayLabels.forEach((s, k) => {
        text(ctx, s, X(grayLabelBars[k]), Y(grayLabelPrices[k]), `bold 15px ${FONT}`, '#8a8a8a');
      });
      greenLabels.forEach((s, k) => {
        text(ctx, s, X(greenLabelBars[k]), Y(greenLabelPrices[k]), `bold 15px ${FONT}`, '#2fd82f');
      });
      tradeTexts.forEach((s, k) => {
        text(ctx, s, X(tradeBars[k]), Y(tradePrices[k]), `14px ${FONT}`, '#000');
      });
      downArrowBars.forEach((b, k) => arrowShape(ctx, X(b), Y(downArrowPrices[k]), 1, '#000'));
      upArrowBars.forEach((b, k) => arrowShape(ctx, X(b), Y(upArrowPrices[k]), -1, '#2f8cf0'));
      // callout
      const cx0 = X(calloutBox[0]), cy0 = Y(calloutBox[1]), cx1 = X(calloutBox[2]), cy1 = Y(calloutBox[3]);
      ctx.fillStyle = '#ffffff';
      ctx.fillRect(cx0, cy0, cx1 - cx0, cy1 - cy0);
      ctx.strokeStyle = '#000080';
      ctx.lineWidth = 1;
      ctx.strokeRect(Math.round(cx0) + 0.5, Math.round(cy0) + 0.5, cx1 - cx0, cy1 - cy0);
      calloutLines.forEach((s, k) => text(ctx, s, (cx0 + cx1) / 2, cy0 + 9 + k * 15, `13px ${FONT}`, '#000'));
      const ax0 = X(calloutArrow[0]), ay0 = Y(calloutArrow[1]), ax1 = X(calloutArrow[2]), ay1 = Y(calloutArrow[3]);
      const ang = Math.atan2(ay1 - ay0, ax1 - ax0);
      ctx.strokeStyle = '#2a8c8c';
      ctx.lineWidth = 3.5;
      ctx.beginPath();
      ctx.moveTo(ax0, ay0);
      ctx.lineTo(ax1 - 8 * Math.cos(ang), ay1 - 8 * Math.sin(ang));
      ctx.stroke();
      ctx.fillStyle = '#2a8c8c';
      ctx.beginPath();
      ctx.moveTo(ax1, ay1);
      ctx.lineTo(ax1 - 12 * Math.cos(ang) + 6 * Math.sin(ang), ay1 - 12 * Math.sin(ang) - 6 * Math.cos(ang));
      ctx.lineTo(ax1 - 12 * Math.cos(ang) - 6 * Math.sin(ang), ay1 - 12 * Math.sin(ang) + 6 * Math.cos(ang));
      ctx.closePath();
      ctx.fill();
      ctx.restore();
    },
    afterDraw(chart: any) {
      const { ctx, chartArea: ca, scales: { y } } = chart;
      ctx.save();
      priceTagValues.forEach((v, k) => {
        drawTag(ctx, ca.right + 2, y.getPixelForValue(v), v.toFixed(2), priceTagFills[k], priceTagInk[k], `15px ${FONT}`, 17);
      });
      ctx.restore();
    },
  };

  return {
    type: 'bar',
    data: { datasets: ds },
    options: {
      animation: false, responsive: false, devicePixelRatio: 1, events: [],
      layout: { padding: { left: 1, right: 0, top: 0, bottom: 0 } },
      plugins: basePlugins,
      scales: {
        x: xAxisHidden(),
        y: {
          type: 'linear', position: 'right', min: 2093.7, max: 2115.8,
          afterFit: (s: any) => { s.width = AXIS_W; },
          afterBuildTicks: (s: any) => { s.ticks = priceTicks.map((v) => ({ value: v })); },
          border: { display: false },
          grid: { color: '#e2e2e2', tickColor: '#000', tickLength: 5, lineWidth: 1 },
          ticks: { callback: (v: any) => Number(v).toFixed(2), color: '#000', font: { family: FONT, size: 13 }, padding: 3 },
        },
      },
    },
    plugins: [deco],
  };
}

// ---------------- volume panel ----------------
function volConfig() {
  const ds: any[] = [
    lineDS([{ x: -2, y: 0 }, { x: 229, y: 0 }], '#a0a0a0', 1, { order: 60 }),
    { type: 'bar', data: volumes.map((v, i) => ({ x: i, y: v })), backgroundColor: '#1010c8', barThickness: 1.6, grouped: false, order: 10 },
  ];
  const deco = {
    id: 'volDeco',
    afterDatasetsDraw(chart: any) {
      const { ctx, scales: { x, y } } = chart;
      ctx.save();
      ctx.fillStyle = '#1010c8';
      volumeDotBars.forEach((b) => {
        ctx.beginPath();
        ctx.arc(x.getPixelForValue(b), Math.max(3, y.getPixelForValue(volumes[b]) - 6), 3, 0, Math.PI * 2);
        ctx.fill();
      });
      ctx.restore();
    },
    afterDraw(chart: any) {
      const { ctx, chartArea: ca, scales: { y } } = chart;
      ctx.save();
      drawTag(ctx, ca.right + 2, y.getPixelForValue(volumeTag), String(volumeTag), '#1414f0', '#fff', `15px ${FONT}`, 17);
      ctx.restore();
    },
  };
  return {
    type: 'bar', data: { datasets: ds },
    options: {
      animation: false, responsive: false, devicePixelRatio: 1, events: [],
      layout: { padding: { left: 1 } }, plugins: basePlugins,
      scales: { x: xAxisHidden(), y: yAxisRight({ min: 0, max: 34000 }) },
    },
    plugins: [deco],
  };
}

// ---------------- oscillator panel ----------------
function oscConfig() {
  const ds: any[] = [];
  oscLevels.forEach((v, k) => ds.push(lineDS([{ x: -2, y: v }, { x: 229, y: v }], oscLevelColors[k], 1, { order: 60 })));
  ds.push(lineDS(P(oscSlow), '#8e8e8e', 3, {
    cubicInterpolationMode: 'monotone', order: 30,
    segment: { borderColor: (c: any) => (c.p1.parsed.y > c.p0.parsed.y ? '#268c26' : '#8e8e8e') },
  }));
  ds.push(lineDS(P(oscFast), '#000', 1, { order: 20 }));
  oscSegFrom.forEach((a, k) => ds.push(lineDS(P([a, oscSegTo[k]]), '#1414c8', 2, { order: 10 })));
  const deco = {
    id: 'oscDeco',
    afterDraw(chart: any) {
      const { ctx, chartArea: ca, scales: { y } } = chart;
      ctx.save();
      drawTag(ctx, ca.right + 2, y.getPixelForValue(oscTag), oscTag.toFixed(2), '#000', '#fff', `15px ${FONT}`, 17);
      ctx.restore();
    },
  };
  return {
    type: 'line', data: { datasets: ds },
    options: {
      animation: false, responsive: false, devicePixelRatio: 1, events: [],
      layout: { padding: { left: 1 } }, plugins: basePlugins,
      scales: {
        x: xAxisHidden(),
        y: {
          type: 'linear', position: 'right', min: -19, max: 115,
          afterFit: (s: any) => { s.width = AXIS_W; },
          afterBuildTicks: (s: any) => { s.ticks = oscTicks.map((v) => ({ value: v })); },
          border: { display: false },
          grid: { drawOnChartArea: false, tickColor: '#000', tickLength: 5 },
          ticks: { color: '#000', font: { family: FONT, size: 13 }, padding: 2 },
        },
      },
    },
    plugins: [deco],
  };
}

// ---------------- histogram panel ----------------
function stripe(color: string) {
  const c = document.createElement('canvas');
  c.width = 3;
  c.height = 4;
  const g = c.getContext('2d')!;
  g.fillStyle = color;
  g.fillRect(0, 0, 1, 4);
  return g.createPattern(c, 'repeat');
}

function histConfig() {
  const ds: any[] = [
    lineDS([{ x: -2, y: 0 }, { x: 229, y: 0 }], '#000', 1, { order: 60 }),
    lineDS(P(histMain), '#8e8e8e', 3, {
      cubicInterpolationMode: 'monotone', order: 30,
      fill: { target: 'origin', above: stripe('#20a020'), below: stripe('#8a8a8a') },
    }),
    lineDS(P(histSignal), '#33ee33', 3, { cubicInterpolationMode: 'monotone', order: 20 }),
  ];
  const deco = {
    id: 'histDeco',
    afterDatasetsDraw(chart: any) {
      const { ctx, scales: { x, y } } = chart;
      ctx.save();
      histEllipseBars.forEach((b, k) => {
        ctx.beginPath();
        ctx.ellipse(x.getPixelForValue(b), y.getPixelForValue(histEllipseVals[k]), 9, 5, 0, 0, Math.PI * 2);
        ctx.strokeStyle = '#6a6ad0';
        ctx.lineWidth = 1;
        ctx.stroke();
      });
      histLabelTexts.forEach((s, k) => {
        text(ctx, s, x.getPixelForValue(histLabelBars[k]), y.getPixelForValue(histLabelVals[k]), `15px ${FONT}`, histLabelBlue[k] ? '#1c1cd0' : '#999999');
      });
      ctx.restore();
    },
    afterDraw(chart: any) {
      const { ctx, chartArea: ca, scales: { y } } = chart;
      ctx.save();
      drawTag(ctx, ca.right + 2, y.getPixelForValue(histTag), histTag.toFixed(2), '#a0a0a0', '#222', `15px ${FONT}`, 17);
      ctx.restore();
    },
  };
  return {
    type: 'line', data: { datasets: ds },
    options: {
      animation: false, responsive: false, devicePixelRatio: 1, events: [],
      layout: { padding: { left: 1 } }, plugins: { ...basePlugins, filler: { propagate: false } },
      scales: { x: xAxisHidden(), y: yAxisRight({ min: -3.7, max: 2.5 }) },
    },
    plugins: [deco],
  };
}

// ---------------- buy/sell pressure panel with time axis ----------------
function bspConfig() {
  const ds: any[] = [];
  bspBands.forEach((v) => ds.push(lineDS([{ x: -2, y: v }, { x: 229, y: v }], '#000', 1, { order: 60 })));
  ds.push(lineDS(P(bspBuy), '#2a8a2a', 1, { order: 30 }));
  ds.push(lineDS(P(bspSell), '#ff2020', 1, { order: 20 }));
  const deco = {
    id: 'bspDeco',
    afterDatasetsDraw(chart: any) {
      const { ctx, chartArea: ca } = chart;
      ctx.save();
      text(ctx, 'BuySellPressure(ES 03-15 (2 Min))', ca.left + 2, ca.top + 19, `13px ${FONT}`, '#222', 'left', 'middle');
      text(ctx, '\u00a9 2015 NinjaTrader, LLC', ca.left + 2, ca.top + 23, `11px ${FONT}`, '#222', 'left', 'middle');
      ctx.restore();
    },
    afterDraw(chart: any) {
      const { ctx, chartArea: ca, scales: { y } } = chart;
      ctx.save();
      drawTag(ctx, ca.right + 2, y.getPixelForValue(bspTag), bspTag.toFixed(2), '#ff0000', '#fff', `15px ${FONT}`, 17);
      ctx.restore();
    },
  };
  return {
    type: 'line', data: { datasets: ds },
    options: {
      animation: false, responsive: false, devicePixelRatio: 1, events: [],
      layout: { padding: { left: 1 } }, plugins: basePlugins,
      scales: {
        x: {
          type: 'linear', position: 'bottom', min: -1.75, max: 228.5, offset: false,
          afterFit: (s: any) => { s.height = 54; },
          afterBuildTicks: (s: any) => { s.ticks = timeTickBars.map((v) => ({ value: v })); },
          border: { display: false },
          grid: { drawOnChartArea: false, tickColor: '#000', tickLength: 4 },
          ticks: {
            callback: (_v: any, i: number) => timeTickLabels[i], autoSkip: false, maxRotation: 0,
            color: '#000', font: { family: FONT, size: 13 }, padding: 3,
          },
        },
        y: yAxisRight({ min: 8, max: 108 }),
      },
    },
    plugins: [deco],
  };
}

function calibrate(chart: any, top: number, map: number[][]) {
  const [[v1, y1], [v2, y2]] = map;
  const k = (y2 - y1) / (v2 - v1);
  const val = (py: number) => v1 + (py - y1) / k;
  const ca = chart.chartArea;
  chart.options.scales.y.max = val(top + ca.top);
  chart.options.scales.y.min = val(top + ca.bottom);
  chart.options.scales.x.min = (ca.left - 8) / 4;
  chart.options.scales.x.max = (ca.right - 8) / 4;
  chart.update();
}

const PANELS = [
  { top: 27, h: 666, map: [[2115, 51], [2094, 684]] },
  { top: 693, h: 46, map: [[0, 732], [7009, 724]] },
  { top: 739, h: 63, map: [[0, 793], [100, 746]] },
  { top: 802, h: 62, map: [[0, 827], [1, 817]] },
  { top: 864, h: 84, map: [[50, 881.5], [75, 874]] },
];

export default function App() {
  const r0 = useRef<HTMLCanvasElement>(null);
  const r1 = useRef<HTMLCanvasElement>(null);
  const r2 = useRef<HTMLCanvasElement>(null);
  const r3 = useRef<HTMLCanvasElement>(null);
  const r4 = useRef<HTMLCanvasElement>(null);
  const refs = [r0, r1, r2, r3, r4];

  useEffect(() => {
    document.body.style.margin = '0';
    document.body.style.background = '#fff';
    const cfgs = [mainConfig(), volConfig(), oscConfig(), histConfig(), bspConfig()];
    const charts = cfgs.map((cfg, k) => {
      const c = new Chart(refs[k].current as any, cfg as any);
      calibrate(c, PANELS[k].top, PANELS[k].map);
      return c;
    });
    return () => charts.forEach((c) => c.destroy());
  }, []);

  const line = (l: number, t: number, w: number, h: number, key: string) => (
    <div key={key} style={{ position: 'absolute', left: l, top: t, width: w, height: h, background: '#000', zIndex: 5 }} />
  );

  return (
    <div style={{ position: 'relative', width: 998, height: 950, background: '#fff', overflow: 'hidden', fontFamily: FONT }}>
      <div style={{ position: 'absolute', left: 0, top: 5, width: 990, textAlign: 'center', fontSize: 14, color: '#000', whiteSpace: 'pre' }}>
        {'ES 03-15 (2 Min)  3/3/2015'}
      </div>
      {PANELS.map((p, k) => (
        <canvas key={k} ref={refs[k]} width={998} height={p.h} style={{ position: 'absolute', left: 0, top: p.top, width: 998, height: p.h }} />
      ))}
      {line(0, 27, 998, 1, 't')}
      {line(0, 27, 1, 922, 'l')}
      {line(997, 27, 1, 922, 'r')}
      {line(0, 948, 998, 1, 'b')}
      {line(922, 27, 1, 868, 'ax')}
      {line(0, 693, 998, 1, 's1')}
      {line(0, 739, 998, 1, 's2')}
      {line(0, 802, 998, 1, 's3')}
      {line(0, 864, 998, 1, 's4')}
      {line(0, 894, 923, 1, 's5')}
    </div>
  );
}
